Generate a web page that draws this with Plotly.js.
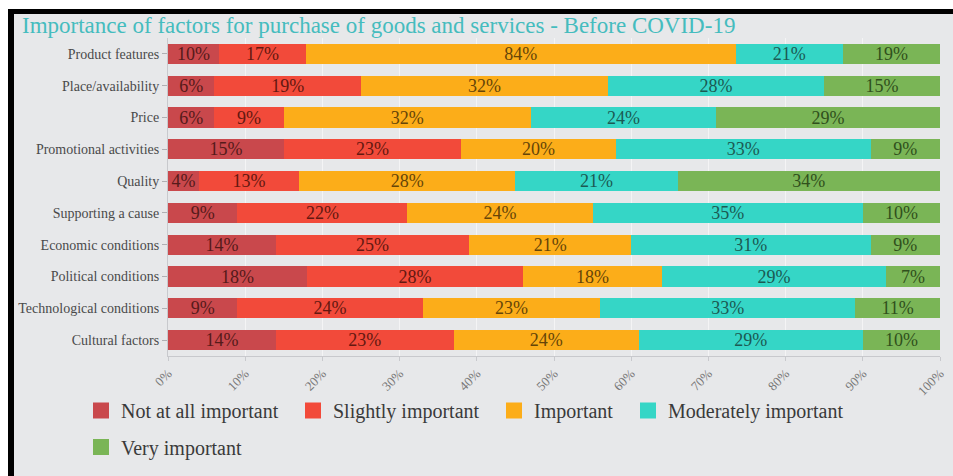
<!DOCTYPE html>
<html><head><meta charset="utf-8">
<script src="https://cdn.plot.ly/plotly-3.0.1.min.js"></script>
<style>
html,body{margin:0;padding:0;background:#fff;}
#wrap{position:relative;width:953px;height:476px;overflow:hidden;}
#chart{position:absolute;left:0;top:0;width:953px;height:476px;}
.f{position:absolute;pointer-events:none;}
</style></head><body>
<div id="wrap"><div id="chart"></div>
<div class="f" style="left:0;top:0;width:953px;height:9px;background:#fff"></div>
<div class="f" style="left:0;top:0;width:8px;height:476px;background:#fff"></div>
<div class="f" style="left:8px;top:9px;width:945px;height:5px;background:#000"></div>
<div class="f" style="left:8px;top:9px;width:6px;height:467px;background:#000"></div>
</div>
<script>
const categories = ['Product features','Place/availability','Price','Promotional activities','Quality','Supporting a cause','Economic conditions','Political conditions','Technological conditions','Cultural factors'];
const seriesNames = ['Not at all important','Slightly important','Important','Moderately important','Very important'];
const notAtAll      = [10, 6, 6, 15, 4, 9, 14, 18, 9, 14];
const slightly      = [17, 19, 9, 23, 13, 22, 25, 28, 24, 23];
const important     = [84, 32, 32, 20, 28, 24, 21, 18, 23, 24];
const moderately    = [21, 28, 24, 33, 21, 35, 31, 29, 33, 29];
const veryImportant = [19, 15, 29, 9, 34, 10, 9, 7, 11, 10];
const xTickValues = [0,10,20,30,40,50,60,70,80,90,100];
const xTickLabels = ['0%','10%','20%','30%','40%','50%','60%','70%','80%','90%','100%'];

const seriesValues = [notAtAll, slightly, important, moderately, veryImportant];
const fillColors = ['#c9484c','#f24a3a','#fcad19','#35d6c6','#7ab556'];
const textColors = ['#561a1a','#641810','#664508','#1b5a53','#30501c'];
const FONT = 'Liberation Serif';

// legend entry placement (container pixels)
const legendX = [81, 293, 494, 628, 81];
const legendTop = [391, 391, 391, 391, 427.5];

const traces = [];
seriesValues.forEach((vals, i) => {
  traces.push({
    type:'bar', orientation:'h', name: seriesNames[i],
    y: categories, x: vals,
    text: vals.map(v => v + '%'),
    textposition:'inside', insidetextanchor:'middle', textangle:0, constraintext:'none',
    textfont:{family:FONT, size:18, color:textColors[i]},
    marker:{color:fillColors[i], line:{width:0}},
    showlegend:false, hoverinfo:'skip'
  });
});
seriesValues.forEach((vals, i) => {
  traces.push({
    type:'scatter', mode:'markers', name: seriesNames[i],
    x:[null], y:[null],
    marker:{symbol:'square', size:20, color:fillColors[i]},
    legend: i === 0 ? 'legend' : 'legend' + (i + 1),
    showlegend:true, hoverinfo:'skip'
  });
});

const layout = {
  width:953, height:476,
  paper_bgcolor:'#e7e8ea', plot_bgcolor:'#e7e8ea',
  margin:{l:168, r:13, t:38, b:120, pad:0},
  barmode:'stack', barnorm:'percent', bargap:0.37,
  hovermode:false,
  title:{text:'Importance of factors for purchase of goods and services - Before COVID-19',
    font:{family:FONT, size:23, color:'#45bcbe'},
    xref:'container', x:22/953, xanchor:'left',
    yref:'container', y:1-25/476, yanchor:'middle'},
  xaxis:{range:[0,100], tickvals:xTickValues, ticktext:xTickLabels, tickangle:-45,
    tickfont:{family:FONT, size:13, color:'#777'},
    showgrid:true, gridcolor:'#f4f4f5', gridwidth:1,
    showline:true, linecolor:'#c8c9cd', linewidth:1,
    ticks:'outside', ticklen:4, tickcolor:'#c8c9cd', zeroline:false, fixedrange:true},
  yaxis:{type:'category', autorange:'reversed',
    tickfont:{family:FONT, size:14, color:'#4a4a4a'},
    showgrid:false, showline:true, linecolor:'#c8c9cd', linewidth:1,
    ticks:'outside', ticklen:5, tickcolor:'#b0b0b4', fixedrange:true},
  showlegend:true
};
legendX.forEach((lx, i) => {
  layout[i === 0 ? 'legend' : 'legend' + (i + 1)] = {
    orientation:'h', traceorder:'normal', xref:'container', yref:'container',
    xanchor:'left', yanchor:'top', x: lx/953, y: 1 - legendTop[i]/476,
    font:{family:FONT, size:20, color:'#3a3a3a'}, bgcolor:'rgba(0,0,0,0)',
    itemclick:false, itemdoubleclick:false
  };
});

Plotly.newPlot('chart', traces, layout, {displayModeBar:false, staticPlot:true});
</script>
</body></html>
